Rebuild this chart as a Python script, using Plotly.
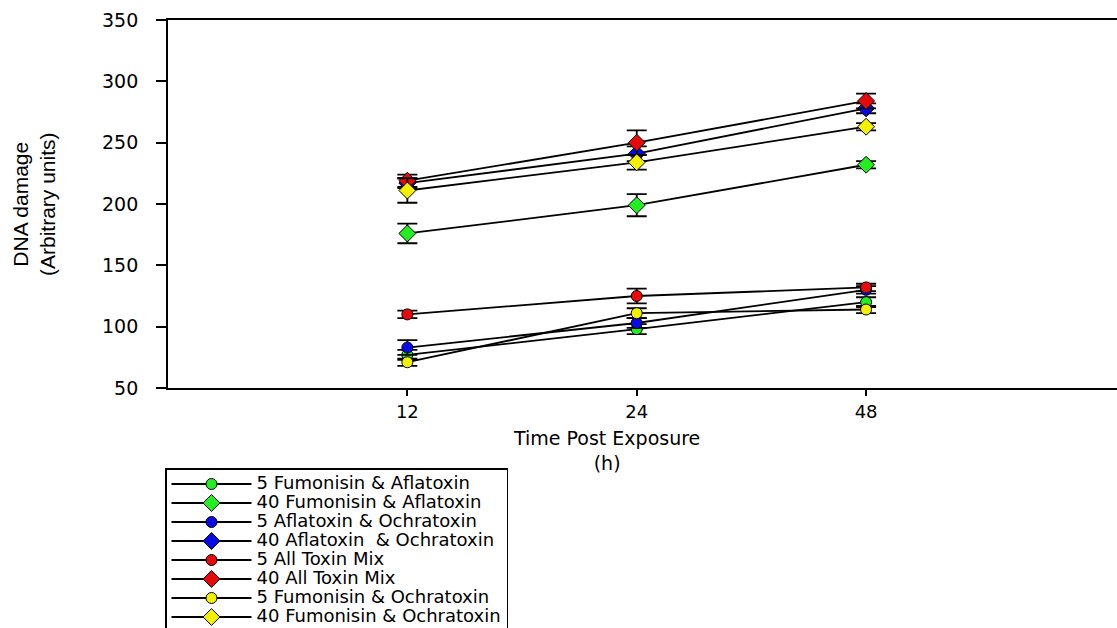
import plotly.graph_objects as go

# ---- data ----
time_labels = ["12", "24", "48"]

series_names = [
    "5 Fumonisin & Aflatoxin",
    "40 Fumonisin & Aflatoxin",
    "5 Aflatoxin & Ochratoxin",
    "40 Aflatoxin  & Ochratoxin",
    "5 All Toxin Mix",
    "40 All Toxin Mix",
    "5 Fumonisin & Ochratoxin",
    "40 Fumonisin & Ochratoxin",
]

fum_afl_5 = [77, 98, 120]
fum_afl_5_err = [4, 4, 4]
fum_afl_40 = [176, 199, 232]
fum_afl_40_err = [8, 9, 3]
afl_och_5 = [83, 103, 130]
afl_och_5_err = [6, 4, 3]
afl_och_40 = [217, 241, 278]
afl_och_40_err = [4, 6, 4]
all_mix_5 = [110, 125, 132]
all_mix_5_err = [3, 6, 3]
all_mix_40 = [219, 250, 284]
all_mix_40_err = [5, 10, 6]
fum_och_5 = [71, 111, 114]
fum_och_5_err = [3, 4, 3]
fum_och_40 = [211, 234, 263]
fum_och_40_err = [10, 6, 3]

values = [fum_afl_5, fum_afl_40, afl_och_5, afl_och_40,
          all_mix_5, all_mix_40, fum_och_5, fum_och_40]
errors = [fum_afl_5_err, fum_afl_40_err, afl_och_5_err, afl_och_40_err,
          all_mix_5_err, all_mix_40_err, fum_och_5_err, fum_och_40_err]

colors = ["#22ee22", "#22ee22", "#0a0ae6", "#0a0ae6",
          "#e80a0a", "#e80a0a", "#f4f000", "#f4f000"]
symbols = ["circle", "diamond", "circle", "diamond",
           "circle", "diamond", "circle", "diamond"]

y_ticks = [50, 100, 150, 200, 250, 300, 350]

# ---- figure ----
W, H = 1117, 628
L, R, T, B = 168, 0, 20, 240
pw, ph = W - L - R, H - T - B

fig = go.Figure()
for name, v, e, c, s in zip(series_names, values, errors, colors, symbols):
    fig.add_trace(go.Scatter(
        x=time_labels, y=v,
        mode="lines+markers",
        name='<span style="font-size:18px">' + name + "</span>",
        line=dict(color="black", width=1.8),
        marker=dict(symbol=s, color=c, size=11 if s == "circle" else 13,
                    line=dict(color="black", width=1)),
        error_y=dict(type="data", array=e, visible=True,
                     color="black", thickness=1.8, width=10),
    ))

fig.update_layout(
    width=W, height=H,
    margin=dict(l=L, r=R, t=T, b=B, autoexpand=False),
    paper_bgcolor="white", plot_bgcolor="white",
    font=dict(family="DejaVu Sans", size=18, color="black"),
    showlegend=True,
    legend=dict(
        x=(165 - L) / pw, y=(H - B - 468) / ph,
        xref="paper", yref="paper",
        xanchor="left", yanchor="top",
        bgcolor="white", bordercolor="black", borderwidth=1.5,
        font=dict(family="DejaVu Sans", size=12, color="black"),
        itemwidth=80,
        tracegroupgap=0,
    ),
    xaxis=dict(
        type="category",
        categoryorder="array", categoryarray=time_labels,
        range=[-1.0436, 3.094],
        showgrid=False, zeroline=False,
        showline=True, linecolor="black", linewidth=1.8,
        mirror=True,
        ticks="outside", ticklen=6, tickwidth=1.5, tickcolor="black",
        tickfont=dict(family="DejaVu Sans", size=18, color="black"),
    ),
    yaxis=dict(
        range=[50, 350],
        tickvals=y_ticks,
        showgrid=False, zeroline=False,
        showline=True, linecolor="black", linewidth=1.8,
        ticks="outside", ticklen=10, tickwidth=1.5, tickcolor="black",
        ticklabelstandoff=14,
        tickfont=dict(family="DejaVu Sans", size=19, color="black"),
    ),
    annotations=[
        dict(text="Time Post Exposure<br>(h)",
             xref="paper", yref="paper",
             x=(606 - L) / pw, y=(H - B - 425) / ph,
             xanchor="center", yanchor="top", showarrow=False,
             font=dict(family="DejaVu Sans", size=19, color="black")),
        dict(text="DNA damage<br>(Arbitrary units)",
             xref="paper", yref="paper",
             x=(34 - L) / pw, y=0.5,
             xanchor="center", yanchor="middle", showarrow=False,
             textangle=-90,
             font=dict(family="Liberation Sans Narrow, Liberation Sans", size=21, color="black")),
    ],
)

fig.write_html("out.html")
